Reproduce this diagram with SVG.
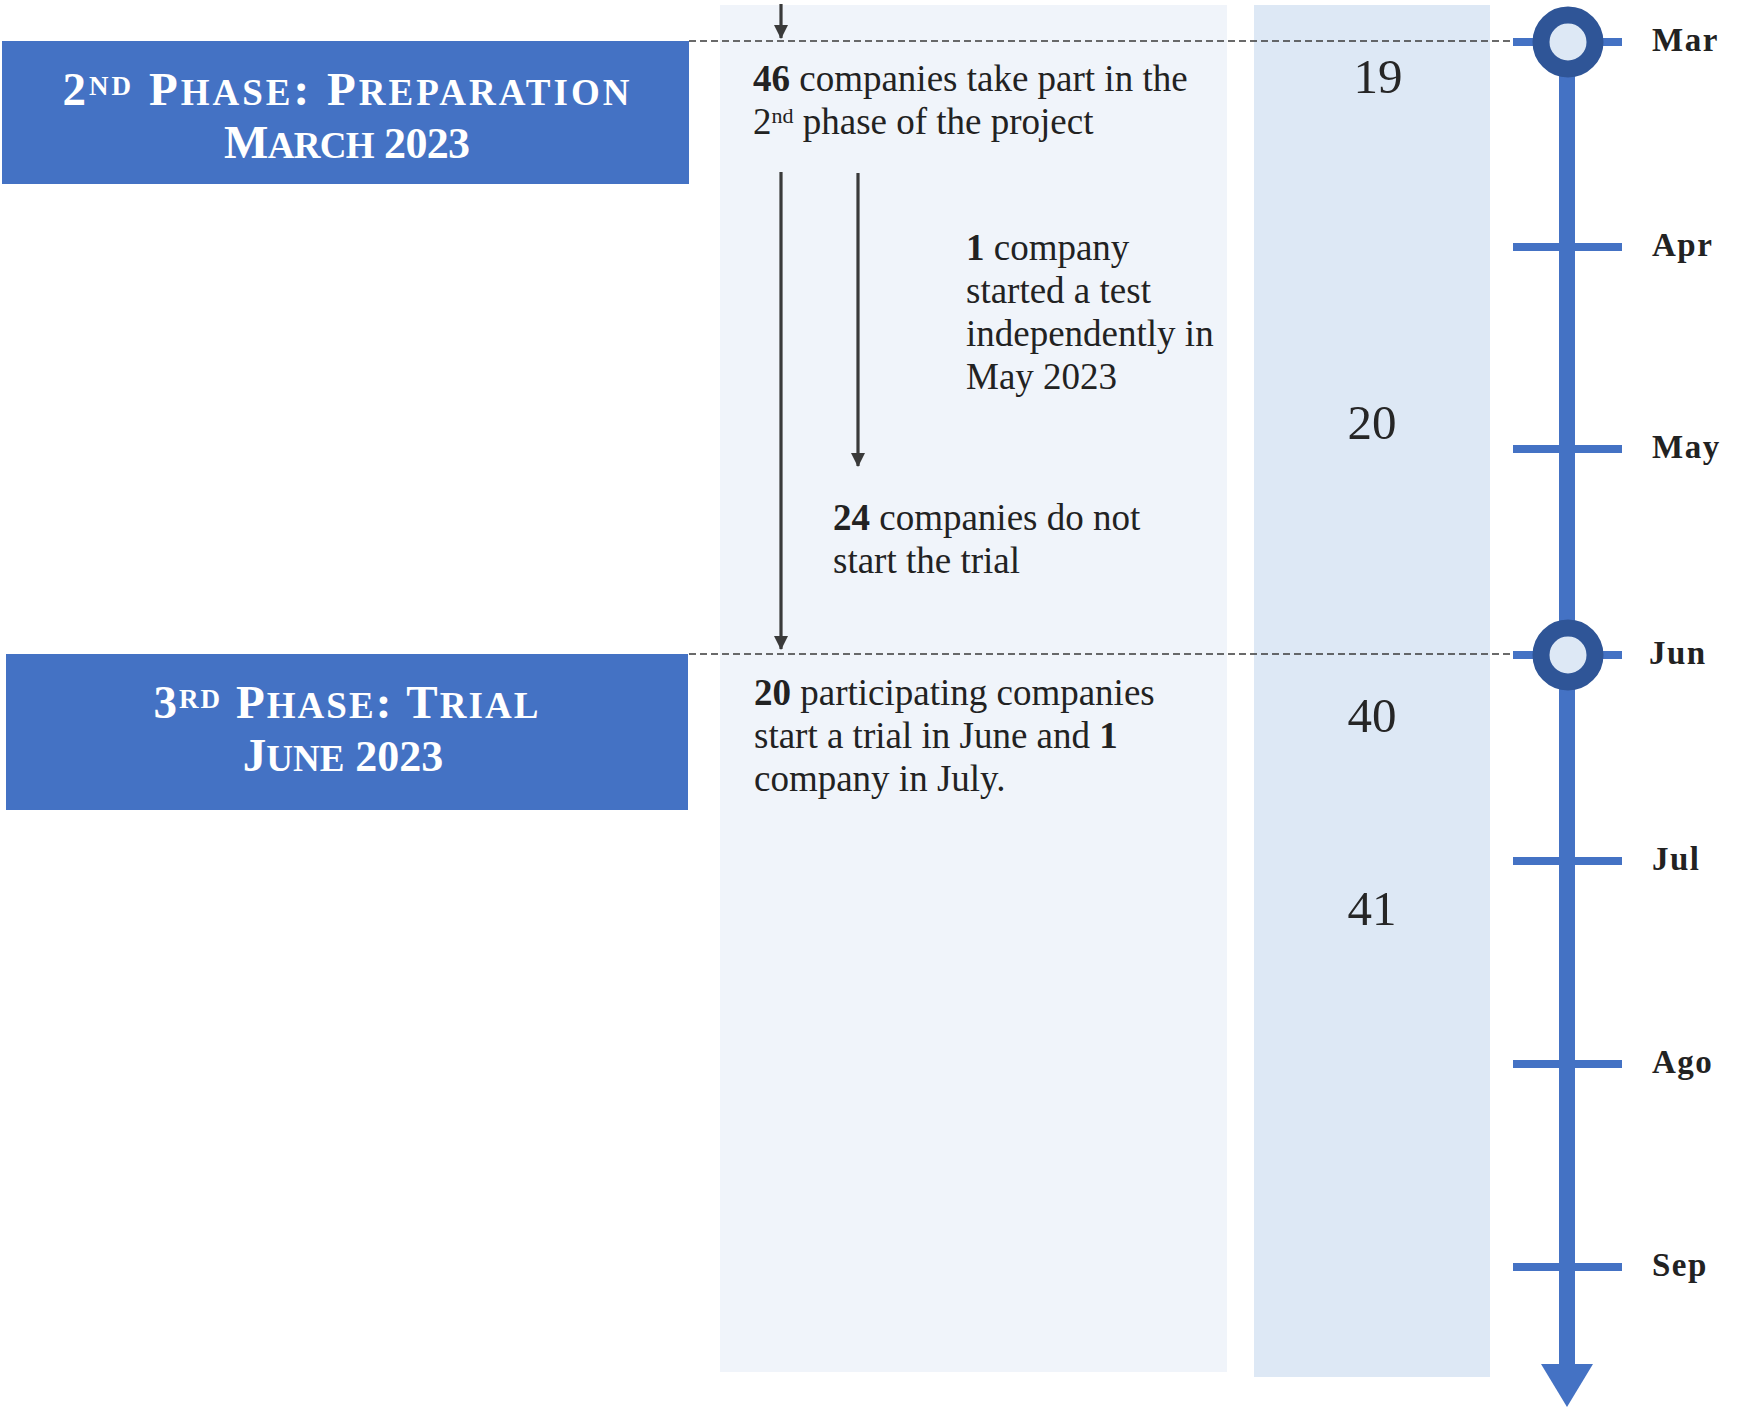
<svg xmlns="http://www.w3.org/2000/svg" width="1742" height="1407" viewBox="0 0 1742 1407">
<style>
.title{font-family:"Liberation Serif","DejaVu Serif",serif;font-weight:bold;fill:#ffffff}
.big{font-size:47px}
.small{font-size:37px}
.dig{font-size:44px}
.sup{font-size:27px}
.body{font-family:"Liberation Serif","DejaVu Serif",serif;font-size:37px;fill:#222222}
.b{font-weight:bold}
.bsup{font-size:22px}
.num{font-family:"Liberation Serif","DejaVu Serif",serif;font-size:49px;fill:#262626;text-anchor:middle}
.month{font-family:"Liberation Serif","DejaVu Serif",serif;font-size:33px;font-weight:bold;fill:#222222;letter-spacing:1.5px}
.tick{fill:#4472C4}
.ring{fill:#DDE8F5;stroke:#2F5597;stroke-width:17}
.flow{stroke:#3a3a3a;stroke-width:3.2;fill:none}
.dash{stroke:#3a3a3a;stroke-width:1.6;stroke-dasharray:7 4;fill:none}
</style>
<defs>
<marker id="ahd" markerUnits="userSpaceOnUse" markerWidth="14" markerHeight="14" viewBox="0 0 14 14" refX="13" refY="7" orient="auto">
<path d="M0,0 L14,7 L0,14 Z" fill="#3a3a3a"/>
</marker>
</defs>

<rect x="720" y="5" width="507" height="1367" fill="#F0F4FA"/>
<rect x="1254" y="5" width="236" height="1372" fill="#DDE8F5"/>

<g id="connectors">
<line class="dash" x1="689" y1="41" x2="1524" y2="41"/>
<line class="dash" x1="689" y1="654" x2="1524" y2="654"/>
<line class="flow" x1="781" y1="4" x2="781" y2="38" marker-end="url(#ahd)"/>
<line class="flow" x1="781" y1="172" x2="781" y2="649" marker-end="url(#ahd)"/>
<line class="flow" x1="858" y1="173" x2="858" y2="466" marker-end="url(#ahd)"/>
</g>

<g id="phase2">
<rect x="2" y="41" width="687" height="143" fill="#4472C4"/>
<text class="title" x="346" y="105" text-anchor="middle" textLength="567" lengthAdjust="spacing"><tspan class="big">2</tspan><tspan class="sup" dy="-10">ND</tspan><tspan class="big" dy="10"> P</tspan><tspan class="small">HASE</tspan><tspan class="big">: P</tspan><tspan class="small">REPARATION</tspan></text>
<text class="title" x="347" y="158" text-anchor="middle" textLength="246" lengthAdjust="spacing"><tspan class="big">M</tspan><tspan class="small">ARCH</tspan><tspan class="dig"> 2023</tspan></text>
</g>

<g id="phase3">
<rect x="6" y="654" width="682" height="156" fill="#4472C4"/>
<text class="title" x="346" y="718" text-anchor="middle" textLength="385" lengthAdjust="spacing"><tspan class="big">3</tspan><tspan class="sup" dy="-10">RD</tspan><tspan class="big" dy="10"> P</tspan><tspan class="small">HASE</tspan><tspan class="big">: T</tspan><tspan class="small">RIAL</tspan></text>
<text class="title" x="343" y="771" text-anchor="middle"><tspan class="big">J</tspan><tspan class="small">UNE</tspan><tspan class="dig"> 2023</tspan></text>
</g>

<g id="note46">
<text class="body" x="753" y="91"><tspan class="b">46</tspan> companies take part in the</text>
<text class="body" x="753" y="134">2<tspan class="bsup" dy="-11">nd</tspan><tspan dy="11"> phase of the project</tspan></text>
</g>

<g id="note1">
<text class="body" x="966" y="260"><tspan class="b">1</tspan> company</text>
<text class="body" x="966" y="303">started a test</text>
<text class="body" x="966" y="346">independently in</text>
<text class="body" x="966" y="389">May 2023</text>
</g>

<g id="note24">
<text class="body" x="833" y="530"><tspan class="b">24</tspan> companies do not</text>
<text class="body" x="833" y="573">start the trial</text>
</g>

<g id="note20">
<text class="body" x="754" y="705"><tspan class="b">20</tspan> participating companies</text>
<text class="body" x="754" y="748">start a trial in June and <tspan class="b">1</tspan></text>
<text class="body" x="754" y="791">company in July.</text>
</g>

<g id="counts">
<text class="num" x="1378" y="93">19</text>
<text class="num" x="1372" y="439">20</text>
<text class="num" x="1372" y="732">40</text>
<text class="num" x="1372" y="925">41</text>
</g>

<g id="timeline">
<rect x="1559" y="42" width="16" height="1325" fill="#4472C4"/>
<polygon points="1541,1364 1593,1364 1567,1407" fill="#4472C4"/>
<rect class="tick" x="1513" y="38" width="109" height="8"/>
<rect class="tick" x="1513" y="243" width="109" height="8"/>
<rect class="tick" x="1513" y="445" width="109" height="8"/>
<rect class="tick" x="1513" y="651" width="109" height="8"/>
<rect class="tick" x="1513" y="857" width="109" height="8"/>
<rect class="tick" x="1513" y="1060" width="109" height="8"/>
<rect class="tick" x="1513" y="1263" width="109" height="8"/>
<circle class="ring" cx="1568" cy="42" r="27"/>
<circle class="ring" cx="1568" cy="655" r="27"/>
<text class="month" x="1652" y="51">Mar</text>
<text class="month" x="1652" y="256">Apr</text>
<text class="month" x="1652" y="458">May</text>
<text class="month" x="1649" y="664">Jun</text>
<text class="month" x="1652" y="870">Jul</text>
<text class="month" x="1652" y="1073">Ago</text>
<text class="month" x="1652" y="1276">Sep</text>
</g>
</svg>
